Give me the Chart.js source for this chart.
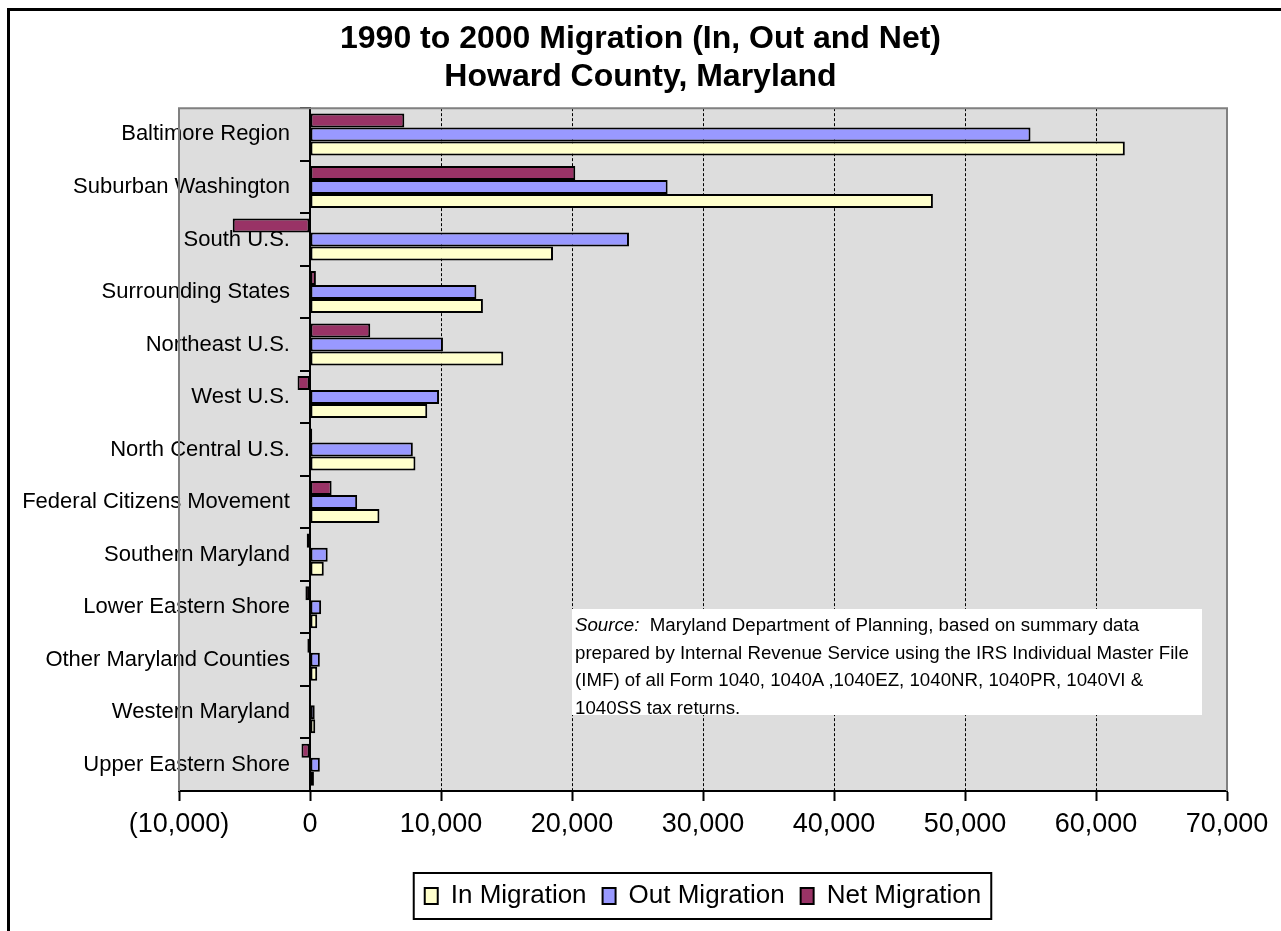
<!DOCTYPE html>
<html>
<head>
<meta charset="utf-8">
<title>1990 to 2000 Migration - Howard County, Maryland</title>
<script src="https://cdn.jsdelivr.net/npm/chart.js@4/dist/chart.umd.min.js"></script>
<style>
  html, body { margin: 0; padding: 0; background: #fff; }
  #wrap { position: relative; width: 1281px; height: 931px; }
  #chart { display: block; }
  #source {
    position: absolute; left: 572px; top: 609px; width: 624px; height: 102px;
    padding: 2px 3px; background: #fff; color: #000;
    font: 18.7px/27.7px "Liberation Sans", Arial, sans-serif; white-space: nowrap;
  }
</style>
</head>
<body>
<div id="wrap">
  <canvas id="chart" width="1281" height="931"></canvas>
  <div id="source"><i>Source:</i>&nbsp; Maryland Department of Planning, based on summary data<br>prepared by Internal Revenue Service using the IRS Individual Master File<br>(IMF) of all Form 1040, 1040A ,1040EZ, 1040NR, 1040PR, 1040VI &amp;<br>1040SS tax returns.</div>
</div>
<script>
const FONT = '"Liberation Sans", Arial, sans-serif';

const categories = [
  "Baltimore Region", "Suburban Washington", "South U.S.", "Surrounding States",
  "Northeast U.S.", "West U.S.", "North Central U.S.", "Federal Citizens Movement",
  "Southern Maryland", "Lower Eastern Shore", "Other Maryland Counties",
  "Western Maryland", "Upper Eastern Shore"
];
const inMigration  = [62200, 47550, 18550, 13200, 14750, 8950, 8050, 5300, 1050, 550, 550, 400, 300];
const outMigration = [55000, 27300, 24350, 12700, 10150, 9850, 7850, 3600, 1350, 850, 750, 360, 750];
const netMigration = [7200, 20250, -5900, 450, 4600, -950, 170, 1650, -250, -350, -200, 40, -650];

const X_MIN = -10000;
const X_MAX = 70000;
const X_STEP = 10000;
// value on the x scale where the category names end (just left of the 0 axis)
const LABEL_AT = -1530;

function fmt(v) {
  const s = Math.abs(v).toLocaleString("en-US");
  return v < 0 ? `(${s})` : s;
}

const frame = {
  id: "frame",
  beforeDraw(chart) {
    const { ctx, chartArea: a } = chart;
    ctx.save();
    ctx.fillStyle = "#000";
    ctx.fillRect(7, 8, chart.width - 7, 3);
    ctx.fillRect(7, 8, 3, chart.height - 8);
    ctx.fillStyle = "#dddddd";
    ctx.fillRect(a.left, a.top, a.right - a.left, a.bottom - a.top);
    ctx.restore();
  },
  beforeDatasetsDraw(chart) {
    const { ctx, chartArea: a } = chart;
    ctx.save();
    ctx.strokeStyle = "#808080";
    ctx.lineWidth = 2;
    ctx.beginPath();
    ctx.moveTo(a.left, a.bottom);
    ctx.lineTo(a.left, a.top);
    ctx.lineTo(a.right, a.top);
    ctx.lineTo(a.right, a.bottom);
    ctx.stroke();
    ctx.restore();
  },
  afterDraw(chart) {
    const hb = chart.legend.legendHitBoxes;
    if (!hb || !hb.length) return;
    const { ctx } = chart;
    const left = Math.min(...hb.map((b) => b.left)) - 11;
    const right = Math.max(...hb.map((b) => b.left + b.width)) + 10;
    const mid = hb[0].top + hb[0].height / 2;
    ctx.save();
    ctx.strokeStyle = "#000";
    ctx.lineWidth = 2;
    ctx.strokeRect(left, mid - 23, right - left, 46);
    ctx.restore();
  }
};

const barStyle = {
  borderColor: "#000",
  borderWidth: 2,
  borderSkipped: false,
  barPercentage: 1,
  categoryPercentage: 0.8,
  xAxisID: "x",
  yAxisID: "y"
};

new Chart(document.getElementById("chart"), {
  type: "bar",
  data: {
    labels: categories,
    datasets: [
      { label: "Net Migration", data: netMigration, backgroundColor: "#993366", ...barStyle },
      { label: "Out Migration", data: outMigration, backgroundColor: "#9999ff", ...barStyle },
      { label: "In Migration", data: inMigration, backgroundColor: "#ffffcc", ...barStyle }
    ]
  },
  options: {
    indexAxis: "y",
    responsive: false,
    animation: false,
    layout: { padding: { left: 54, right: 54, top: 10, bottom: 12 } },
    scales: {
      x: {
        type: "linear",
        position: "bottom",
        min: X_MIN,
        max: X_MAX,
        ticks: {
          stepSize: X_STEP,
          padding: 7.5,
          maxRotation: 0,
          autoSkip: false,
          color: "#000",
          font: { family: FONT, size: 27 },
          callback: (v) => fmt(v)
        },
        grid: {
          color: (c) => (c.tick && [X_MIN, 0, X_MAX].includes(c.tick.value) ? "rgba(0,0,0,0)" : "#000"),
          lineWidth: 1,
          tickColor: "#000",
          tickWidth: 2,
          tickLength: 10
        },
        border: { color: "#000", width: 2, dash: [3, 2] },
        afterFit: (s) => { s.height += 18.6; }
      },
      y: {
        type: "category",
        position: { x: 0 },
        offset: true,
        grid: { offset: true, drawOnChartArea: false, color: "#000", lineWidth: 2, tickLength: 9, tickWidth: 2 },
        border: { color: "#000", width: 2 },
        ticks: { display: false }
      },
      yl: {
        type: "category",
        axis: "y",
        position: { x: LABEL_AT },
        offset: true,
        grid: { display: false, offset: true },
        border: { display: false },
        ticks: { color: "#000", font: { family: FONT, size: 22 } }
      },
      pad: {
        type: "category",
        axis: "y",
        position: "left",
        grid: { display: false },
        border: { display: false },
        ticks: { display: false },
        afterFit: (s) => { s.width = 125; }
      }
    },
    plugins: {
      title: {
        display: true,
        text: ["1990 to 2000 Migration (In, Out and Net)", "Howard County, Maryland"],
        color: "#000",
        font: { family: FONT, size: 32, weight: "bold", lineHeight: 1.19 },
        padding: { top: 10, bottom: 12 }
      },
      legend: {
        position: "bottom",
        fullSize: false,
        reverse: true,
        labels: {
          color: "#000",
          font: { family: FONT, size: 26 },
          boxWidth: 13,
          boxHeight: 16,
          padding: 16
        }
      },
      tooltip: { enabled: false }
    }
  },
  plugins: [frame]
});
</script>
</body>
</html>
